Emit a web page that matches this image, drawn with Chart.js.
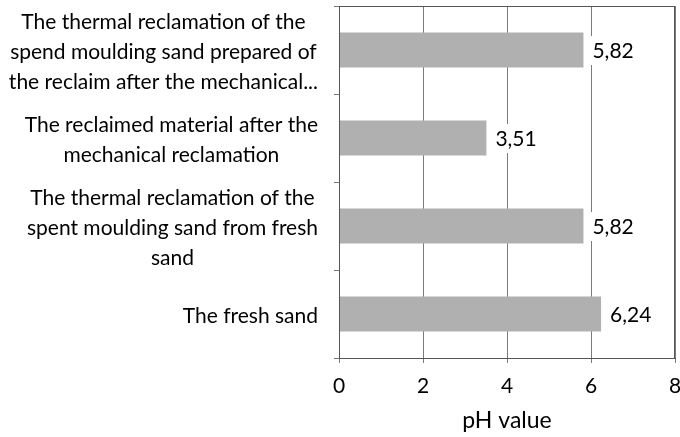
<!DOCTYPE html>
<html>
<head>
<meta charset="utf-8">
<script src="https://cdn.jsdelivr.net/npm/chart.js@4"></script>
<style>
  html, body { margin: 0; padding: 0; background: #fff; }
  #wrap { width: 680px; height: 437px; }
</style>
</head>
<body>
<div id="wrap"><canvas id="phChart"></canvas></div>
<script>
const categories = [
    ['The thermal reclamation of the', 'spend moulding sand prepared of', 'the reclaim after the mechanical...'],
    ['The reclaimed material after the', 'mechanical reclamation'],
    ['The thermal reclamation of the', 'spent moulding sand from fresh', 'sand'],
    ['The fresh sand']
];
const phValues = [5.82, 3.51, 5.82, 6.24];
const xTicks = [0, 2, 4, 6, 8];

const FONT = 'Lato, "Open Sans", sans-serif';
const GRID = '#7a7a7a';

// draws the multi-line category labels, lines centred within each block
const labelPlugin = {
    id: 'labels',
    afterDraw(chart) {
        const ctx = chart.ctx;
        const yScale = chart.scales.y;
        const rightEdge = chart.chartArea.left - 21;
        const lineH = 30;
        ctx.save();
        ctx.font = '21px ' + FONT;
        ctx.fillStyle = '#000';
        ctx.textBaseline = 'middle';
        ctx.textAlign = 'center';
        categories.forEach((lines, i) => {
            const blockW = Math.max(...lines.map(l => ctx.measureText(l).width));
            const cx = rightEdge - blockW / 2;
            const cy = yScale.getPixelForValue(i) + 2;
            const startY = cy - (lines.length - 1) * lineH / 2;
            lines.forEach((l, j) => ctx.fillText(l, cx, startY + j * lineH));
        });

        // value labels at the end of each bar, on a white box like the original
        const meta = chart.getDatasetMeta(0);
        ctx.textAlign = 'left';
        meta.data.forEach((bar, i) => {
            const txt = phValues[i].toFixed(2).replace('.', ',');
            const w = ctx.measureText(txt).width;
            ctx.fillStyle = '#fff';
            ctx.fillRect(bar.x + 6, bar.y - 14, w + 6, 29);
            ctx.fillStyle = '#000';
            ctx.fillText(txt, bar.x + 9, bar.y + 1);
        });

        // plot frame
        const a = chart.chartArea;
        ctx.strokeStyle = '#555';
        ctx.lineWidth = 1;
        ctx.strokeRect(Math.round(a.left) + 0.5, Math.round(a.top) + 0.5,
            Math.round(a.right - a.left) - 1, Math.round(a.bottom - a.top));
        ctx.restore();
    }
};

new Chart(document.getElementById('phChart'), {
    type: 'bar',
    data: {
        labels: categories.map(c => c.join(' ')),
        datasets: [{
            data: phValues,
            backgroundColor: '#b0b0b0',
            borderWidth: 0,
            categoryPercentage: 0.4,
            barPercentage: 1.0
        }]
    },
    options: {
        indexAxis: 'y',
        responsive: true,
        maintainAspectRatio: false,
        animation: false,
        layout: { padding: { top: 6, right: 5, bottom: 0, left: 0 } },
        plugins: {
            legend: { display: false },
            tooltip: { enabled: false }
        },
        scales: {
            x: {
                min: 0,
                max: 8,
                afterBuildTicks: axis => { axis.ticks = xTicks.map(v => ({ value: v })); },
                afterFit: axis => {
                    axis.height = 79;
                    axis.paddingLeft = 0;
                    axis.paddingRight = 0;
                },
                grid: { color: GRID, tickLength: 5, drawTicks: true },
                border: { color: '#555' },
                ticks: {
                    color: '#000',
                    font: { family: FONT, size: 21 },
                    padding: 11
                },
                title: {
                    display: true,
                    text: 'pH value',
                    color: '#000',
                    font: { family: FONT, size: 23 },
                    padding: { top: 0, bottom: 3 }
                }
            },
            y: {
                afterFit: axis => { axis.width = 339; },
                grid: { drawOnChartArea: false, color: GRID, tickLength: 5, offset: true },
                border: { color: '#555' },
                ticks: { color: 'transparent', font: { size: 1 } }
            }
        }
    },
    plugins: [labelPlugin]
});
</script>
</body>
</html>
